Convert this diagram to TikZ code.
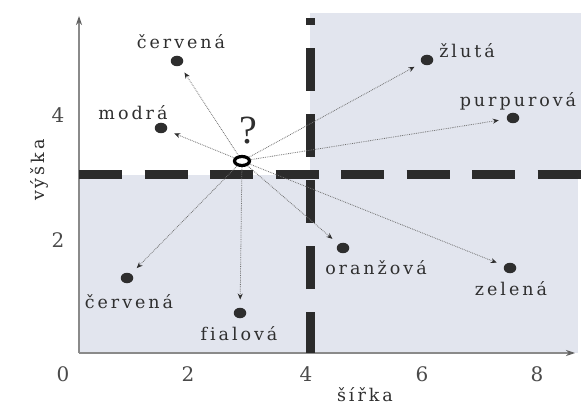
\documentclass[tikz,border=0pt]{standalone}
\usepackage{fontspec}
\setmainfont{DejaVu Serif}
\newfontfamily\lblf[LetterSpace=17,Ligatures=NoCommon]{DejaVu Serif}
\newfontfamily\qf{Liberation Serif}
\usetikzlibrary{arrows.meta,shapes.geometric}
\definecolor{shadec}{HTML}{E2E5EE}
\definecolor{dashc}{HTML}{2B2B2B}
\definecolor{dotc}{HTML}{2E2E2E}
\definecolor{txtc}{HTML}{2F2F2F}
\definecolor{tickc}{HTML}{4A4A4A}
\definecolor{arrc}{HTML}{707070}
\definecolor{axc}{HTML}{8A8A8A}
\tikzset{
  dotnode/.style={ellipse, fill=dotc, inner sep=0pt, minimum width=12.5pt, minimum height=10.5pt},
  lbl/.style={font=\fontsize{17.5}{20}\selectfont\lblf, text=txtc, inner sep=0pt},
  tick/.style={font=\fontsize{20}{22}\selectfont, text=tickc, inner sep=0pt},
  arr/.style={draw=arrc, densely dotted, line width=0.8pt,
    -{Stealth[length=6pt,width=5pt,color=dotc]}, shorten >=8pt},
  bigdash/.style={draw=dashc, line width=9pt, line cap=butt},
  axisline/.style={draw=axc, line width=1.2pt, -{Stealth[length=9pt,width=6pt,color=axc!70!black]}},
}
\begin{document}
\begin{tikzpicture}[x=1pt,y=-1pt]
\useasboundingbox (0,0) rectangle (581,406);
\fill[white] (0,0) rectangle (581,406);
% shaded regions
\fill[shadec] (79,175) rectangle (578,353);
\fill[shadec] (310,13) rectangle (581,175);
% axes
\coordinate (o) at (79,353);
\coordinate (ytop) at (79,16);
\coordinate (xend) at (575,353);
\draw[axisline] (o) -- (ytop);
\draw[axisline] (o) -- (xend);
% big dashed lines
\coordinate (hL) at (79,175);
\coordinate (hR) at (581,175);
\coordinate (vB) at (310,353);
\coordinate (vT) at (310,18);
\draw[bigdash, dash pattern=on 43pt off 22.5pt] (hL) -- (hR);
\draw[bigdash, dash pattern=on 43pt off 23pt, dash phase=2pt] (vB) -- (vT);
% tick labels
\node[tick] (t0) at (63,374) {0};
\node[tick] (t2x) at (188,374) {2};
\node[tick] (t4x) at (306,374) {4};
\node[tick] (t6x) at (422,374) {6};
\node[tick] (t8x) at (537,374) {8};
\node[tick] (t2y) at (58,240) {2};
\node[tick] (t4y) at (58,115) {4};
% axis titles
\node[lbl] (xt) at (365,395) {šířka};
\node[lbl, rotate=90] (yt) at (39,170) {výška};
% query point
\node[ellipse, draw=black, line width=3.2pt, minimum width=15pt, minimum height=9pt, inner sep=0pt, fill=white] (q) at (242,161) {};
\node[font=\fontsize{40}{40}\selectfont\qf, text=txtc, inner sep=0pt] (qm) at (248,131) {?};
% data points
\node[dotnode] (cerA) at (177,61) {};
\node[dotnode] (modra) at (161,128) {};
\node[dotnode] (zluta) at (427,60) {};
\node[dotnode] (purp) at (513,118) {};
\node[dotnode] (oranz) at (343,248) {};
\node[dotnode] (zelena) at (510,268) {};
\node[dotnode] (cerB) at (127,278) {};
\node[dotnode] (fial) at (240,313) {};
% labels
\node[lbl] (LcerA) at (181,42) {červená};
\node[lbl] (Lmodra) at (133,113) {modrá};
\node[lbl] (Lzluta) at (467,51) {žlutá};
\node[lbl] (Lpurp) at (518,101) {purpurová};
\node[lbl] (Loranz) at (376,268) {oranžová};
\node[lbl] (Lzelena) at (511,289) {zelená};
\node[lbl] (LcerB) at (129,302) {červená};
\node[lbl] (Lfial) at (239,334) {fialová};
% arrows
\foreach \t in {cerA,modra,zluta,purp,oranz,zelena,cerB,fial}
  \draw[arr] (q) -- (\t);
\end{tikzpicture}
\end{document}
